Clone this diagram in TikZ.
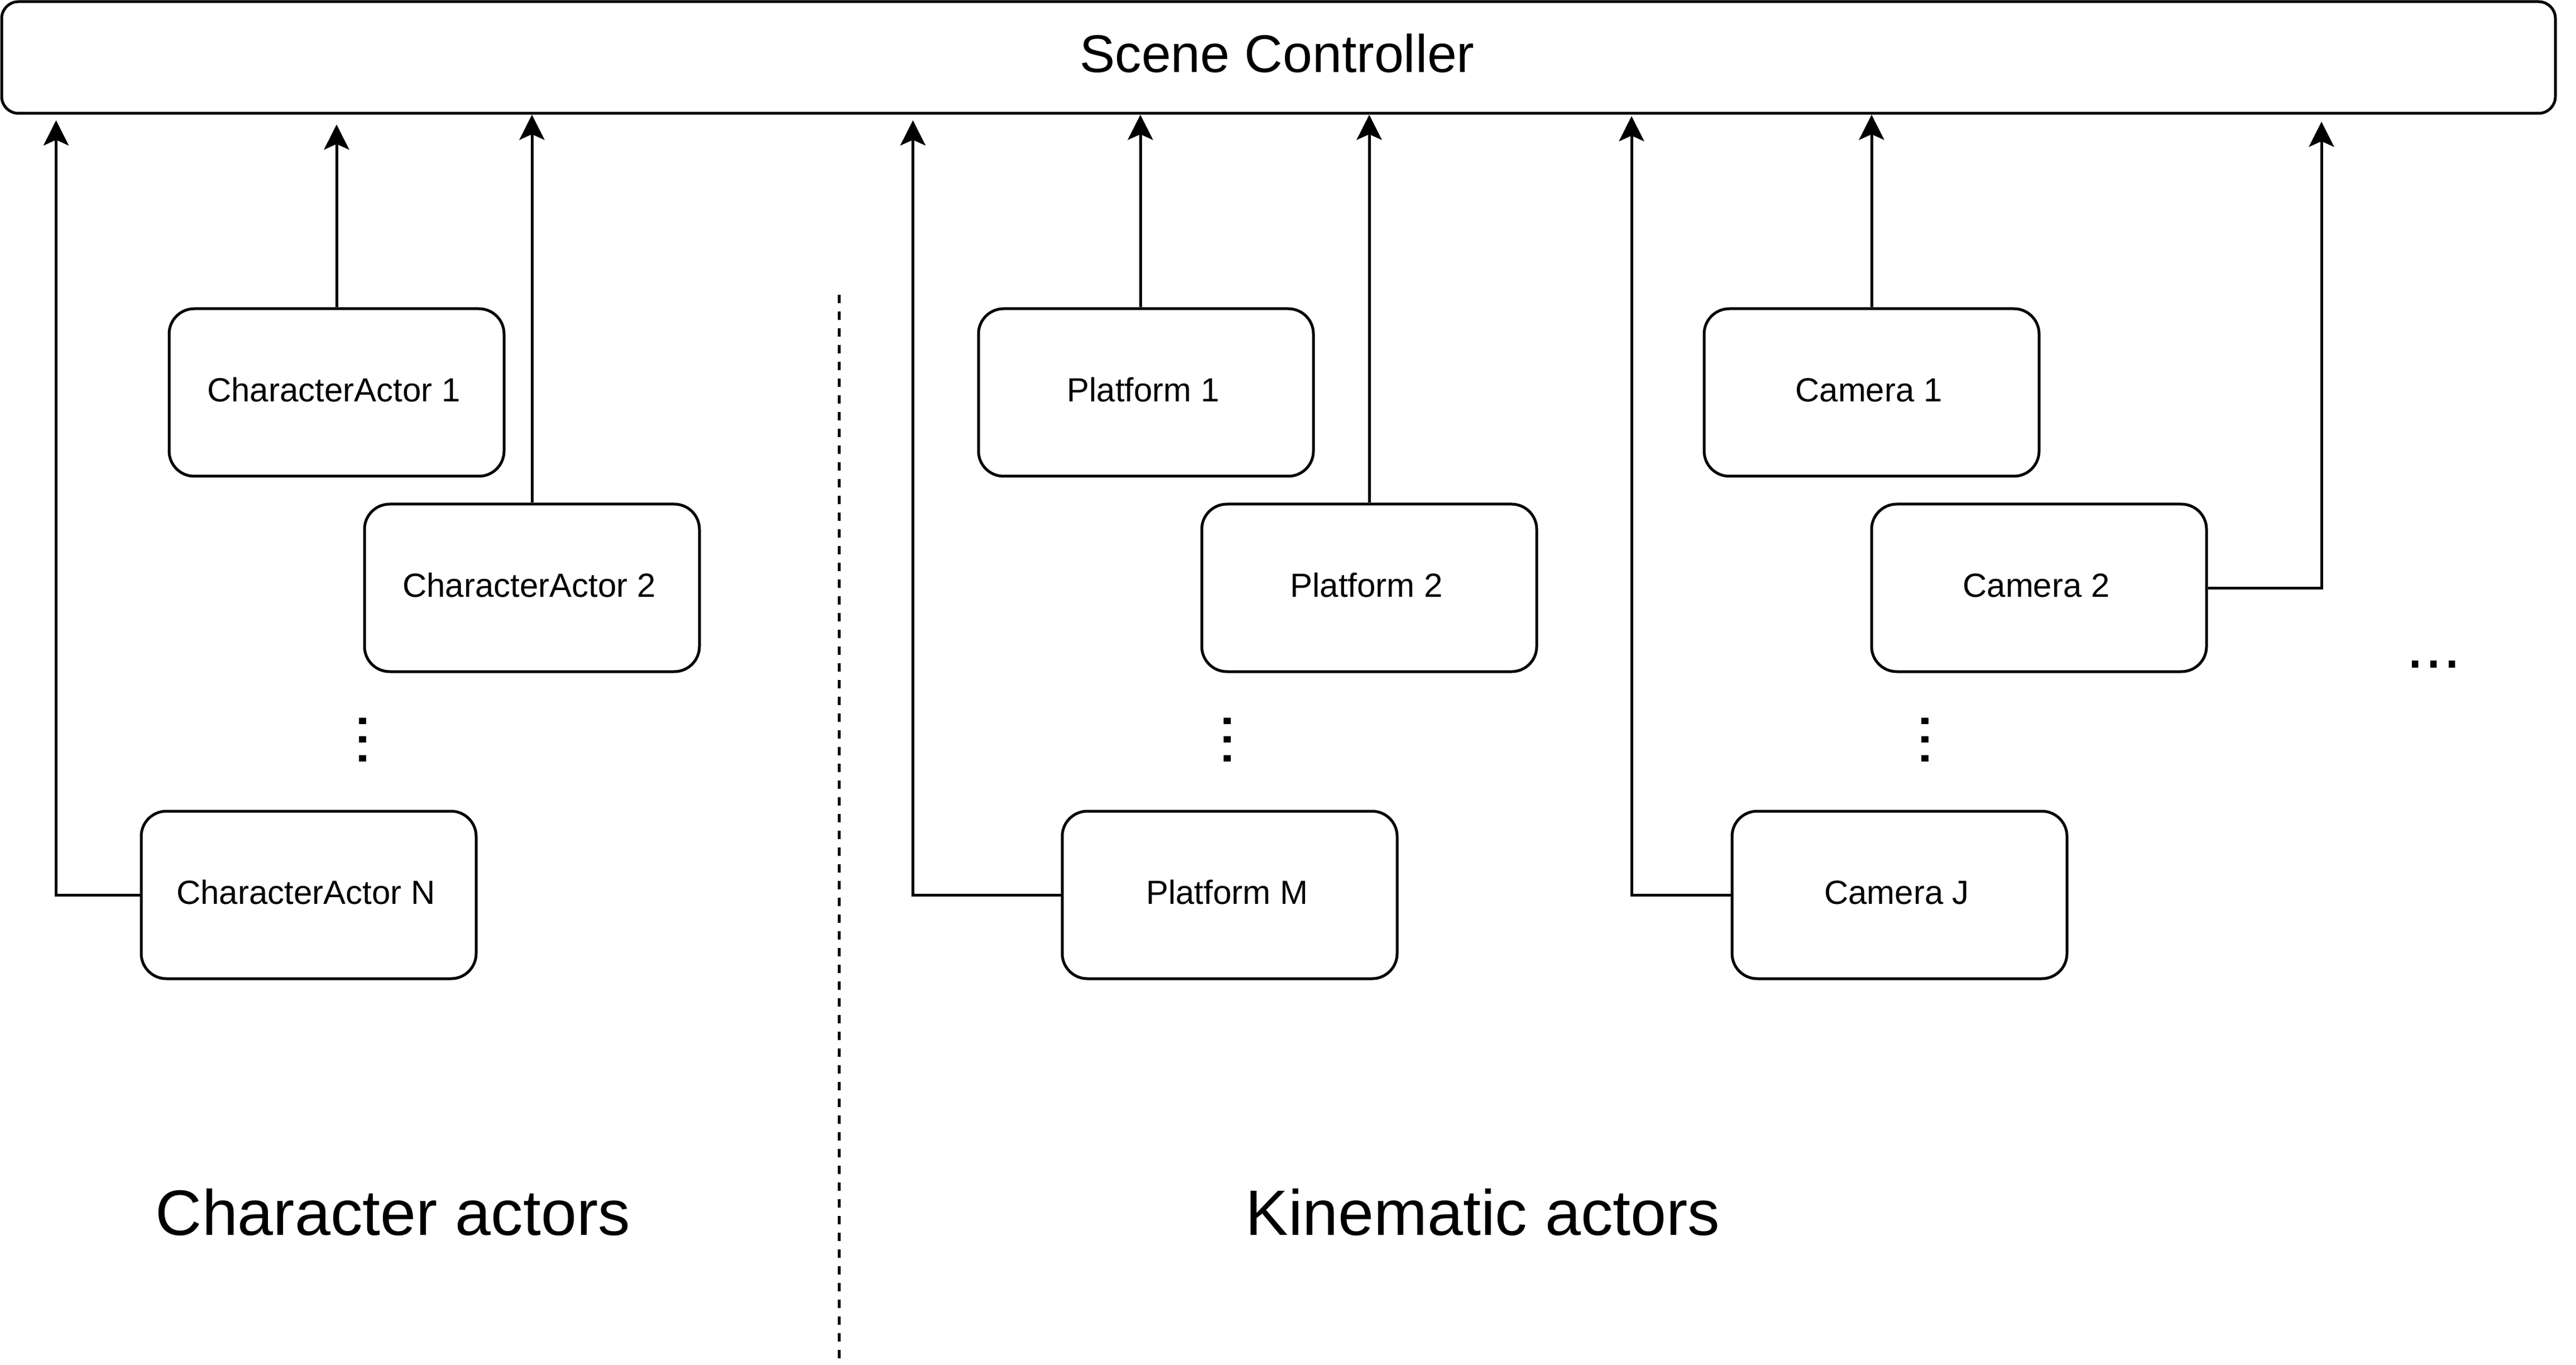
\documentclass[tikz,border=0pt]{standalone}
\usepackage{fontspec}
\setmainfont{Liberation Sans}
\usepackage{tikz}
\usetikzlibrary{arrows.meta}

\begin{document}
\begin{tikzpicture}[x=1pt,y=-1pt,
    actor/.style={draw,line width=1pt,rounded corners=9pt,inner sep=0pt,
      minimum width=120pt,minimum height=60pt,text height=8.6pt,text depth=2pt,
      execute at begin node=\kern-2pt,font=\fontsize{12}{14}\selectfont},
    ctrl/.style={draw,line width=1pt,rounded corners=6pt,inner sep=0pt,
      minimum width=915pt,minimum height=40pt,text height=13.6pt,text depth=2.8pt,
      execute at begin node=\kern-1pt,font=\fontsize{19}{22}\selectfont},
    link/.style={line width=1pt,-{Stealth[length=9pt,width=9pt,inset=2pt]}},
    group/.style={inner sep=0pt,anchor=base,font=\fontsize{23}{27}\selectfont},
    ellip/.style={inner sep=0pt,font=\fontsize{24}{28}\selectfont}]
  \useasboundingbox (-0.6,-0.6) rectangle (922.4,488.4);
  \node[ctrl] (sc) at (457.5,20) {Scene Controller};
  % character actors
  \node[actor] (ca1) at (120,140) {CharacterActor 1};
  \node[actor] (ca2) at (190,210) {CharacterActor 2};
  \node[actor] (can) at (110,320) {CharacterActor N};
  \node[ellip,rotate=90] (cadots) at (129.4,264.4) {...};
  % kinematic actors
  \node[actor] (p1) at (410,140) {Platform 1};
  \node[actor] (p2) at (490,210) {Platform 2};
  \node[actor] (pm) at (440,320) {Platform M};
  \node[ellip,rotate=90] (pdots) at (439.2,264.4) {...};
  \node[actor] (c1) at (670,140) {Camera 1};
  \node[actor] (c2) at (730,210) {Camera 2};
  \node[actor] (cj) at (680,320) {Camera J};
  \node[ellip,rotate=90] (cdots) at (689.2,264.4) {...};
  \node[ellip] (moredots) at (871.4,237.4) {...};
  % links up to the controller
  \draw[link,shorten >=3.5pt] (ca1.north) -- (ca1.north |- sc.south);
  \draw[link] (ca2.north) -- (ca2.north |- sc.south);
  \draw[link,shorten >=2pt] (can.west) -| ([xshift=20pt]sc.south west);
  \draw[link] ([xshift=-2pt]p1.north) -- ([xshift=-2pt]p1.north |- sc.south);
  \draw[link] (p2.north) -- (p2.north |- sc.south);
  \draw[link,shorten >=2pt] (pm.west) -| ([xshift=327pt]sc.south west);
  \draw[link] (c1.north) -- (c1.north |- sc.south);
  \draw[link,shorten >=2.5pt] (c2.east) -| ([xshift=831.7pt]sc.south west);
  \draw[link,shorten >=0.5pt] (cj.west) -| ([xshift=584.5pt]sc.south west);
  % separator and group labels
  \draw[dashed,line width=1pt] (300,105) -- (300,486);
  \node[group] (lblchar) at (140.2,441.8) {Character actors};
  \node[group] (lblkin) at (530.7,441.8) {Kinematic actors};
\end{tikzpicture}
\end{document}
